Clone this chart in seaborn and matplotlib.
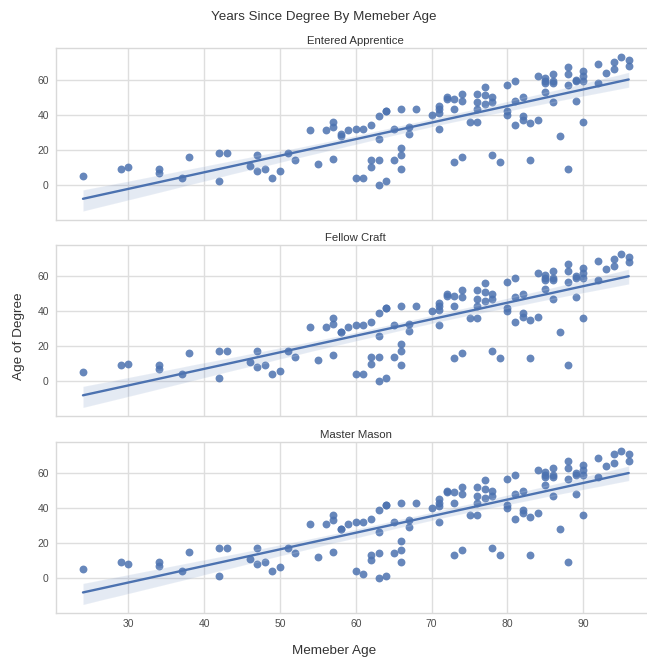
import numpy as np
import pandas as pd
import matplotlib
matplotlib.use("Agg")
import matplotlib.pyplot as plt
import seaborn as sns

# ---- data ----
member_age = [24, 29, 30, 34, 34, 37, 38, 42, 42, 43, 46, 47, 47, 48, 49, 50, 51, 52,
              54, 55, 56, 57, 57, 57, 58, 58, 59, 60, 60, 61, 61, 62, 62, 62,
              63, 63, 63, 63, 64, 64, 64, 65, 65, 66, 66, 66, 66, 67, 67, 68,
              70, 71, 71, 71, 71, 72, 72, 73, 73, 73, 74, 74, 74, 75, 76, 76, 76, 76,
              77, 77, 77, 78, 78, 78, 79, 80, 80, 80, 81, 81, 81, 82, 82, 82, 83, 83,
              84, 84, 85, 85, 85, 85, 86, 86, 86, 86, 87, 88, 88, 88, 88, 89, 89, 89,
              90, 90, 90, 90, 92, 92, 93, 94, 94, 95, 96, 96]

years_ea = [5, 9, 10, 9, 7, 4, 16, 18, 2, 18, 11, 17, 8, 9, 4, 8, 18, 14,
            31, 12, 31, 36, 33, 15, 29, 28, 31, 32, 4, 32, 4, 34, 14, 10,
            39, 26, 14, 0, 42, 42, 2, 32, 14, 43, 21, 17, 9, 33, 29, 43,
            40, 45, 43, 41, 32, 50, 49, 49, 43, 13, 52, 48, 16, 36, 52, 47, 43, 36,
            56, 51, 46, 50, 47, 17, 13, 57, 42, 40, 59, 48, 34, 50, 39, 37, 35, 14,
            62, 37, 61, 59, 58, 53, 63, 59, 58, 47, 28, 67, 63, 57, 9, 60, 59, 48,
            65, 62, 59, 36, 69, 58, 64, 70, 66, 73, 71, 68]

years_fc = [5, 9, 10, 9, 7, 4, 16, 17, 2, 17, 11, 17, 8, 9, 4, 6, 17, 14,
            31, 12, 31, 36, 33, 15, 28, 28, 31, 32, 4, 32, 4, 34, 14, 10,
            39, 26, 14, 0, 42, 42, 2, 32, 14, 43, 21, 17, 9, 33, 29, 43,
            40, 45, 43, 41, 32, 50, 49, 49, 43, 13, 52, 48, 16, 36, 52, 47, 43, 36,
            56, 51, 46, 50, 47, 17, 13, 57, 42, 40, 59, 48, 34, 50, 39, 37, 35, 13,
            62, 37, 61, 59, 58, 53, 63, 59, 58, 47, 28, 67, 63, 57, 9, 60, 59, 48,
            65, 62, 59, 36, 69, 58, 64, 70, 66, 73, 71, 68]

years_mm = [5, 9, 8, 9, 7, 4, 15, 17, 1, 17, 11, 17, 8, 9, 4, 6, 17, 14,
            31, 12, 31, 36, 33, 15, 28, 28, 31, 32, 4, 32, 2, 34, 13, 10,
            39, 26, 14, 0, 42, 42, 1, 32, 14, 43, 21, 16, 9, 33, 29, 43,
            40, 45, 43, 41, 32, 50, 49, 49, 43, 13, 52, 48, 16, 36, 52, 47, 43, 36,
            56, 51, 46, 50, 47, 17, 13, 57, 42, 40, 59, 48, 34, 50, 39, 37, 35, 13,
            62, 37, 61, 59, 58, 53, 63, 59, 58, 47, 28, 67, 63, 57, 9, 60, 59, 48,
            65, 62, 59, 36, 69, 58, 64, 71, 66, 73, 71, 67]

degrees = ["Entered Apprentice", "Fellow Craft", "Master Mason"]
series = [years_ea, years_fc, years_mm]

df = pd.concat([
    pd.DataFrame({"Memeber Age": member_age, "Age of Degree": ys, "degree": d})
    for d, ys in zip(degrees, series)
], ignore_index=True)

# ---- style ----
sns.set_theme(style="whitegrid")
plt.rcParams["font.family"] = ["Liberation Sans", "DejaVu Sans"]
plt.rcParams["axes.edgecolor"] = ".85"
plt.rcParams["grid.color"] = ".87"

W, H = 647, 658
fig, axes = plt.subplots(3, 1, figsize=(W / 100, H / 100), dpi=100, sharex=True)

# panel pixel boxes (top, bottom)
boxes = [(48, 220), (245, 416), (442, 612.5)]
left_px, right_px = 55.7, 656

blue = sns.color_palette("deep")[0]
for ax, d, (t, b) in zip(axes, degrees, boxes):
    sub = df[df["degree"] == d]
    sns.regplot(data=sub, x="Memeber Age", y="Age of Degree", ax=ax, color=blue,
                scatter_kws={"s": 32, "alpha": 0.85, "linewidths": 0},
                line_kws={"linewidth": 1.7}, seed=0, truncate=True)
    ax.set_position([left_px / W, 1 - b / H, (right_px - left_px) / W, (b - t) / H])
    ax.set_xlim(20.4, 99.6)
    ax.set_ylim(-20, 78)
    ax.set_yticks([0, 20, 40, 60])
    ax.set_xticks([30, 40, 50, 60, 70, 80, 90])
    ax.set_xlabel("")
    ax.set_ylabel("")
    ax.set_title(d, fontsize=8.2, pad=3, color=".2")
    ax.tick_params(axis="both", labelsize=7.5, colors=".3", pad=5, length=0)
    for sp in ax.spines.values():
        sp.set_color(".85")
        sp.set_linewidth(1)

fig.text(0.5, 1 - 17 / H, "Years Since Degree By Memeber Age", ha="center", va="center",
         fontsize=9.6, color=".2")
fig.text(334 / W, 1 - 651 / H, "Memeber Age", ha="center", va="center", fontsize=9.7, color=".2")
fig.text(19 / W, 1 - 336 / H, "Age of Degree", ha="center", va="center", rotation=90,
         fontsize=9.7, color=".2")

fig.savefig("out.png", dpi=100)
